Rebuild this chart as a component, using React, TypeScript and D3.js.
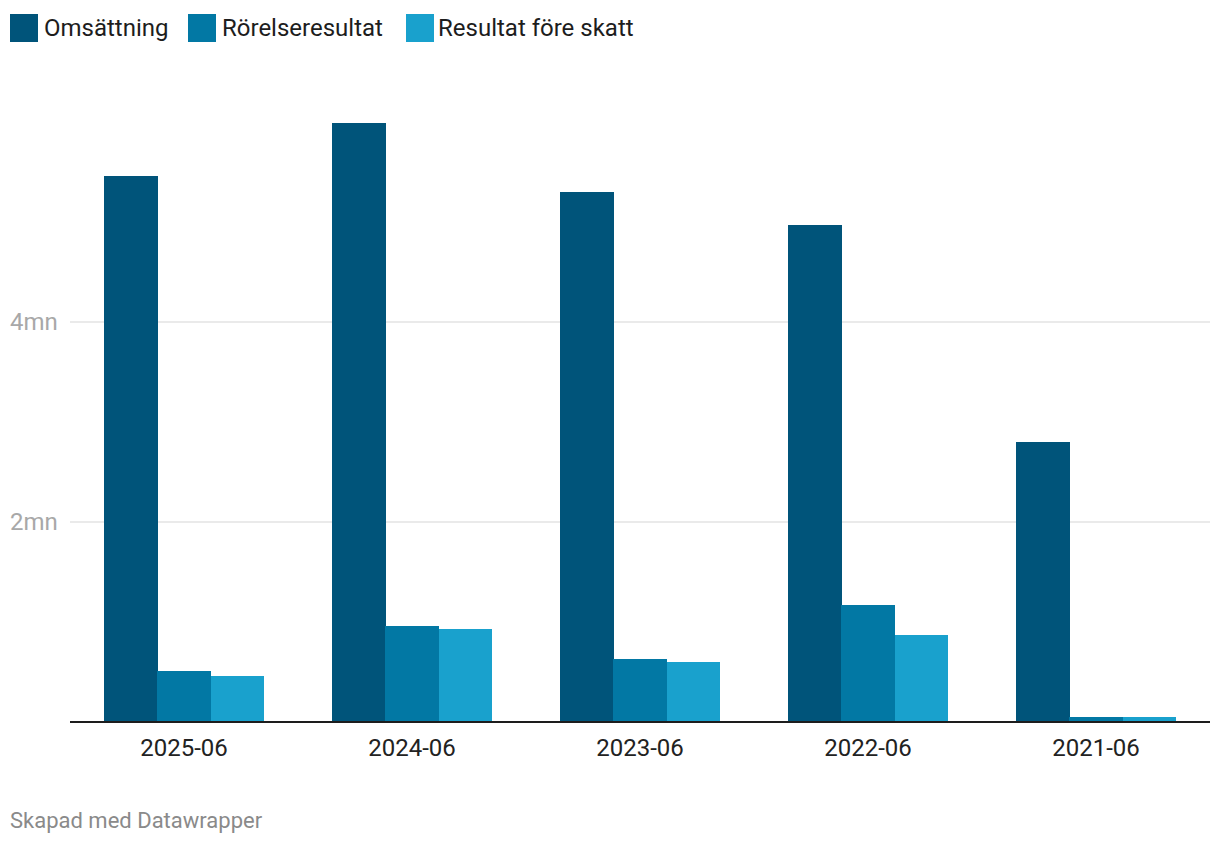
import React, { useEffect, useRef } from 'react';
import * as d3 from 'd3';

const periods = ['2025-06', '2024-06', '2023-06', '2022-06', '2021-06'];
const seriesNames = ['Omsättning', 'Rörelseresultat', 'Resultat före skatt'];
const seriesColors = ['#00547a', '#0278a4', '#19a1cd'];
// values in mn
const omsattning = [5.46, 5.99, 5.3, 4.97, 2.8];
const rorelseresultat = [0.51, 0.96, 0.63, 1.17, 0.05];
const resultatForeSkatt = [0.46, 0.93, 0.6, 0.87, 0.05];
const yTicks = [2, 4];

const width = 1220;
const height = 844;

const App: React.FC = () => {
  const svgRef = useRef<SVGSVGElement>(null);

  useEffect(() => {
    document.body.style.margin = '0';
    if (!svgRef.current) return;
    const svg = d3.select(svgRef.current);
    svg.selectAll('*').remove();

    const font = 'Roboto, "Noto Sans", sans-serif';
    const left = 70;
    const right = 1210;
    const baseline = 722;

    const series = [omsattning, rorelseresultat, resultatForeSkatt];

    const x0 = d3.scaleBand<string>().domain(periods).range([left, right]).paddingInner(0.3).paddingOuter(0.15);
    const x1 = d3.scaleBand<string>().domain(seriesNames).range([0, x0.bandwidth()]);
    const y = d3.scaleLinear().domain([0, 6]).range([baseline, 122]);

    // grid + y labels
    const grid = svg.append('g');
    grid.selectAll('line')
      .data(yTicks)
      .enter()
      .append('line')
      .attr('x1', left)
      .attr('x2', right)
      .attr('y1', d => y(d))
      .attr('y2', d => y(d))
      .attr('stroke', '#e3e3e3')
      .attr('stroke-width', 1.5);
    grid.selectAll('text')
      .data(yTicks)
      .enter()
      .append('text')
      .attr('x', 10)
      .attr('y', d => y(d))
      .attr('dy', '0.35em')
      .style('font-family', font)
      .style('font-size', '24px')
      .style('fill', '#a8a8a8')
      .text(d => `${d}mn`);

    // bars
    const groups = svg.append('g')
      .selectAll('g')
      .data(periods)
      .enter()
      .append('g')
      .attr('transform', d => `translate(${x0(d)},0)`);

    groups.selectAll('rect')
      .data((_, i) => seriesNames.map((name, s) => ({ name, value: series[s][i], color: seriesColors[s] })))
      .enter()
      .append('rect')
      .attr('x', d => x1(d.name) as number)
      .attr('width', x1.bandwidth() + 0.5)
      .attr('y', d => y(d.value))
      .attr('height', d => baseline - y(d.value))
      .attr('fill', d => d.color)
      .attr('shape-rendering', 'crispEdges');

    // baseline axis
    svg.append('line')
      .attr('x1', left)
      .attr('x2', right)
      .attr('y1', baseline)
      .attr('y2', baseline)
      .attr('stroke', '#1d1d1d')
      .attr('stroke-width', 2);

    svg.append('g')
      .selectAll('text')
      .data(periods)
      .enter()
      .append('text')
      .attr('x', d => (x0(d) as number) + x0.bandwidth() / 2)
      .attr('y', 756)
      .attr('text-anchor', 'middle')
      .style('font-family', font)
      .style('font-size', '24px')
      .style('fill', '#222')
      .text(d => d);

    // legend
    const legendX = [10, 188, 406];
    const legendTextX = [44, 222, 438];
    const legend = svg.append('g');
    seriesNames.forEach((name, i) => {
      legend.append('rect')
        .attr('x', legendX[i])
        .attr('y', 14)
        .attr('width', 28)
        .attr('height', 28)
        .attr('fill', seriesColors[i]);
      legend.append('text')
        .attr('x', legendTextX[i])
        .attr('y', 36)
        .style('font-family', font)
        .style('font-size', '24px')
        .style('fill', '#1d1d1d')
        .text(name);
    });

    svg.append('text')
      .attr('x', 10)
      .attr('y', 828)
      .style('font-family', font)
      .style('font-size', '22px')
      .style('fill', '#8a8a8a')
      .text('Skapad med Datawrapper');
  }, []);

  return <svg ref={svgRef} width={width} height={height} style={{ display: 'block', background: '#fff' }} />;
};

export default App;
